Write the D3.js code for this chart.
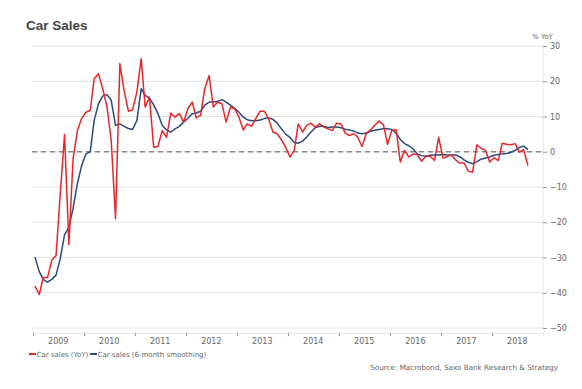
<!DOCTYPE html>
<html>
<head>
<meta charset="utf-8">
<script src="https://cdn.jsdelivr.net/npm/d3@7"></script>
<style>
  body { margin: 0; background: #fff; }
  text { font-family: "DejaVu Sans", Verdana, sans-serif; }
</style>
</head>
<body>
<div class="chart"></div>
<script>
// monthly, starting Jan 2009
const startYear = 2009;
const yoy = [
  -38.1, -40.5, -35.7, -35.7, -30.8, -29.4, -12, 4.9, -26.3, -2, 6, 9.4,
  11.2, 11.7, 20.7, 22.1, 17.9, 12.7, 3.2, -19, 25, 17.4, 11.5, 11.9,
  17, 26.4, 12.7, 15.5, 1.3, 1.5, 6, 4.1, 11, 9.8, 10.8, 8.4,
  12.2, 14.1, 9.6, 10.3, 17.9, 21.6, 12.7, 14.1, 13.6, 8.4, 12.7, 12.2,
  9.8, 6.2, 7.9, 7.2, 9.4, 11.5, 11.5, 9.4, 5.6, 5.1, 3.4, 1.3,
  -1.5, 0.4, 7.9, 5.6, 7.5, 8.1, 7.0, 7.9, 7.0, 6.5, 6.0, 8.1,
  7.9, 5.3, 4.6, 5.1, 4.2, 1.5, 5.1, 6.2, 7.5, 8.7, 7.7, 2.1,
  6.2, 6.2, -2.9, 0.4, -1.5, -0.6, -0.8, -2.7, -1.3, -1.3, -2.5, 4.1,
  -1.8, -1.4, -0.9, -2.3, -3.2, -3.2, -5.5, -5.8, 2.0, 1.0, 0.4, -2.9,
  -1.7, -2.5, 2.4, 2.1, 2.0, 2.3, -0.1, 0.6, -3.9
];
const smooth = [
  -29.9, -34.0, -36.2, -37.0, -36.2, -35.0, -30.4, -23.5, -21.5, -16, -9, -4,
  -0.6, 0, 8.9, 13.6, 15.8, 16.2, 14.6, 7.5, 7.9, 7.2, 6.6, 6.3,
  8.9, 17.9, 16, 15.2, 13.3, 10.8, 7.5, 6.2, 5.6, 6.5, 7.2, 8.4,
  9.5, 10.8, 11, 11.5, 13.2, 14.1, 14.1, 14.3, 14.8, 14.1, 13.2, 12.3,
  11.2, 9.8, 9.1, 8.8, 8.8, 9.0, 9.4, 9.6, 9.2, 8.2, 6.5, 5.0,
  4.1, 2.6, 2.4, 3.0, 4.2, 5.6, 6.8, 7.2, 7.2, 6.9, 7.0, 7.0,
  6.8, 6.4, 6.2, 5.9, 5.3, 5.1, 5.3, 5.8, 6.1, 6.3, 6.5, 6.5,
  6.3, 5.2, 3.5, 2.3, 1.7, 0.8, -0.6, -1.1, -1.3, -1.0, -0.9, -0.9,
  -0.8, -0.9, -0.9, -0.9, -1.4, -2.3, -3.0, -3.4, -2.8, -2.1, -1.8, -1.5,
  -1.0, -0.8, -0.6, -0.5, -0.2, 0.4, 1.2, 1.6, 0.6
];
const years = [2009, 2010, 2011, 2012, 2013, 2014, 2015, 2016, 2017, 2018];
const yTicks = [-50, -40, -30, -20, -10, 0, 10, 20, 30];

const width = 582, height = 389;
const svg = d3.select(".chart").append("svg")
  .attr("width", width)
  .attr("height", height);

const x = d3.scaleTime()
  .domain([new Date(2009, 0, 1), new Date(2019, 0, 1)])
  .range([33, 543]);
const y = d3.scaleLinear().domain([-50, 30]).range([328, 46]);

const date = (i) => new Date(startYear, i, 15);

// title
svg.append("text")
  .attr("x", 26).attr("y", 30)
  .attr("fill", "#444")
  .style("font-family", "'Liberation Sans', Arial, sans-serif")
  .style("font-size", "13.5px")
  .style("font-weight", "bold")
  .text("Car Sales");

// gridlines
svg.append("g")
  .selectAll("line")
  .data(yTicks)
  .join("line")
  .attr("x1", 32).attr("x2", 543)
  .attr("y1", (d) => y(d)).attr("y2", (d) => y(d))
  .attr("stroke", "#e2e2e2")
  .attr("stroke-width", 1);

// right axis line
svg.append("line")
  .attr("x1", 543).attr("x2", 543)
  .attr("y1", y(30)).attr("y2", y(-50))
  .attr("stroke", "#e6e6e6");

// right y axis
const yAxis = svg.append("g")
  .attr("transform", "translate(543,0)")
  .call(d3.axisRight(y).tickValues(yTicks).tickSize(4).tickPadding(3));
yAxis.select(".domain").remove();
yAxis.selectAll(".tick line").attr("stroke", "#999");
yAxis.selectAll(".tick text")
  .attr("fill", "#666")
  .style("font-size", "8px")
  .style("font-family", "'DejaVu Sans', Verdana, sans-serif");

svg.append("text")
  .attr("x", 532).attr("y", 39)
  .attr("fill", "#666")
  .style("font-size", "7px")
  .text("% YoY");

// x axis
const xAxis = svg.append("g")
  .attr("transform", "translate(0,333)")
  .call(d3.axisBottom(x)
    .tickValues(years.map((yr) => new Date(yr, 0, 1)))
    .tickSize(3)
    .tickFormat(""));
xAxis.select(".domain").attr("stroke", "#e6e6e6");
xAxis.selectAll(".tick line").attr("stroke", "#999");

svg.append("g")
  .selectAll("text")
  .data(years)
  .join("text")
  .attr("x", (d) => x(new Date(d, 6, 1)))
  .attr("y", 344)
  .attr("text-anchor", "middle")
  .attr("fill", "#666")
  .style("font-size", "8px")
  .text((d) => d);

// zero line
svg.append("line")
  .attr("x1", 32).attr("x2", 543)
  .attr("y1", y(0)).attr("y2", y(0))
  .attr("stroke", "#888")
  .attr("stroke-width", 1.5)
  .attr("stroke-dasharray", "5,4");

const line = d3.line()
  .x((d, i) => x(date(i)))
  .y((d) => y(d));

svg.append("path")
  .datum(smooth)
  .attr("d", line)
  .attr("fill", "none")
  .attr("stroke", "#2c4a7c")
  .attr("stroke-width", 1.5)
  .attr("stroke-linejoin", "round");

svg.append("path")
  .datum(yoy)
  .attr("d", line)
  .attr("fill", "none")
  .attr("stroke", "#e8262a")
  .attr("stroke-width", 1.5)
  .attr("stroke-linejoin", "round");

// legend
const legend = [
  { label: "Car sales (YoY)", color: "#e8262a", x: 29 },
  { label: "Car sales (6-month smoothing)", color: "#2c4a7c", x: 90 }
];
const lg = svg.append("g").selectAll("g").data(legend).join("g")
  .attr("transform", (d) => `translate(${d.x},354)`);
lg.append("line")
  .attr("x1", 0).attr("x2", 7)
  .attr("stroke", (d) => d.color)
  .attr("stroke-width", 2);
lg.append("text")
  .attr("x", 7.5).attr("y", 2.5)
  .attr("fill", "#666")
  .style("font-size", "7px")
  .text((d) => d.label);

svg.append("text")
  .attr("x", 558).attr("y", 370)
  .attr("text-anchor", "end")
  .attr("fill", "#666")
  .style("font-size", "7.2px")
  .text("Source: Macrobond, Saxo Bank Research & Strategy");
</script>
</body>
</html>
